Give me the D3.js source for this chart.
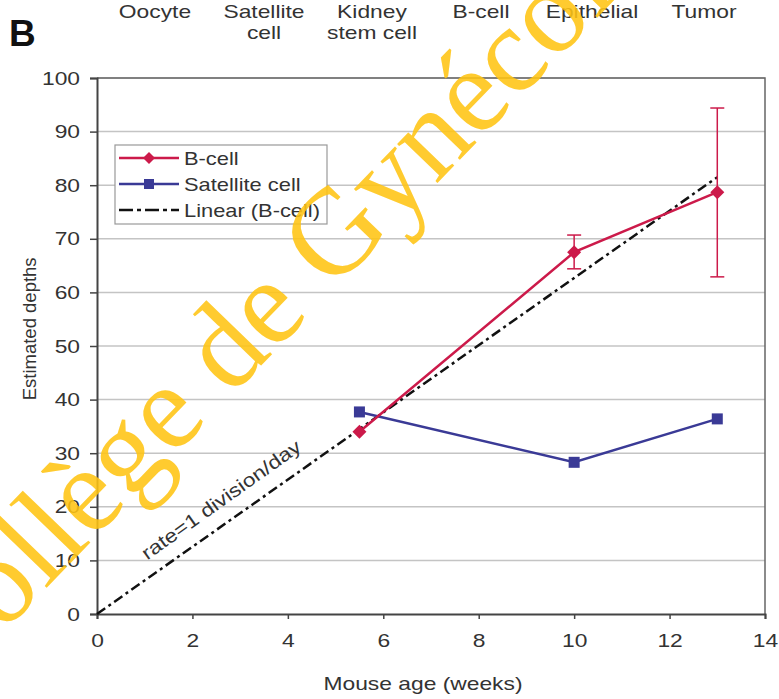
<!DOCTYPE html>
<html>
<head>
<meta charset="utf-8">
<script src="https://cdn.jsdelivr.net/npm/d3@7"></script>
<style>
  body { margin: 0; background: #fff; }
  svg { display: block; font-family: "Liberation Sans", Arial, sans-serif; }
</style>
</head>
<body>
<div id="chart"></div>
<script>
// B-cell depths with error bars, satellite cell depths, linear fit
const weeks = [5.5, 10, 13];
const bcell = [34, 67.5, 78.7];
const bcellLo = [34, 64.4, 62.9];
const bcellHi = [34, 70.7, 94.4];
const satellite = [37.7, 28.3, 36.4];
const linearWeeks = [0, 13];
const linearDepth = [0, 81.5];
const xTicks = [0, 2, 4, 6, 8, 10, 12, 14];
const yTicks = [0, 10, 20, 30, 40, 50, 60, 70, 80, 90, 100];
const headers = [["Oocyte"], ["Satellite", "cell"], ["Kidney", "stem cell"], ["B-cell"], ["Epithelial"], ["Tumor"]];
const headerX = [155, 264, 372, 481, 592, 704];
const legendLabels = ["B-cell", "Satellite cell", "Linear (B-cell)"];

const W = 779, H = 699;
const m = {top: 78, right: 14, bottom: 85, left: 97};
const red = "#cc1a4a", blue = "#3a3a96";
const stretch = 1.2; // the original text is drawn wide

const svg = d3.select("#chart").append("svg")
  .attr("width", W).attr("height", H);

function widen(sel, k) {
  sel.each(function () {
    const len = this.getComputedTextLength();
    d3.select(this).attr("textLength", len * k).attr("lengthAdjust", "spacingAndGlyphs");
  });
}

const x = d3.scaleLinear().domain([0, 14]).range([m.left, W - m.right]);
const y = d3.scaleLinear().domain([0, 100]).range([H - m.bottom, m.top]);

// gridlines
svg.append("g")
  .selectAll("line")
  .data(yTicks.slice(1))
  .join("line")
  .attr("x1", x(0)).attr("x2", x(14))
  .attr("y1", d => y(d)).attr("y2", d => y(d))
  .attr("stroke", "#c4c4c4").attr("stroke-width", 1.5);

// plot border top/right
svg.append("path")
  .attr("d", `M${x(0)},${y(100)}H${x(14)}V${y(0)}`)
  .attr("fill", "none").attr("stroke", "#666").attr("stroke-width", 1.5);

// axes
const xAxis = svg.append("g")
  .attr("transform", `translate(0,${y(0)})`)
  .call(d3.axisBottom(x).tickValues(xTicks).tickSize(5).tickPadding(15));
const yAxis = svg.append("g")
  .attr("transform", `translate(${x(0)},0)`)
  .call(d3.axisLeft(y).tickValues(yTicks).tickSize(7).tickPadding(10));
[xAxis, yAxis].forEach(g => {
  g.select(".domain").attr("stroke", "#444").attr("stroke-width", 2);
  g.selectAll(".tick line").attr("stroke", "#444").attr("stroke-width", 1.5);
  g.selectAll(".tick text").attr("fill", "#333").style("font-size", "19px");
  widen(g.selectAll(".tick text"), stretch);
});

// linear fit
const lin = linearWeeks.map((w, i) => [w, linearDepth[i]]);
svg.append("path")
  .attr("d", d3.line().x(d => x(d[0])).y(d => y(d[1]))(lin))
  .attr("fill", "none").attr("stroke", "#111").attr("stroke-width", 2.5)
  .attr("stroke-dasharray", "10,4,3,4");

const rate = svg.append("text")
  .attr("transform", "translate(225,505) rotate(-35.5)")
  .attr("text-anchor", "middle")
  .attr("fill", "#333").style("font-size", "19px")
  .text("rate=1 division/day");
widen(rate, stretch);

// satellite cell
const sat = weeks.map((w, i) => [w, satellite[i]]);
svg.append("path")
  .attr("d", d3.line().x(d => x(d[0])).y(d => y(d[1]))(sat))
  .attr("fill", "none").attr("stroke", blue).attr("stroke-width", 2.5);
svg.append("g").selectAll("rect").data(sat).join("rect")
  .attr("x", d => x(d[0]) - 5.5).attr("y", d => y(d[1]) - 5.5)
  .attr("width", 11).attr("height", 11).attr("fill", blue);

// B-cell
const bc = weeks.map((w, i) => [w, bcell[i], bcellLo[i], bcellHi[i]]);
svg.append("path")
  .attr("d", d3.line().x(d => x(d[0])).y(d => y(d[1]))(bc))
  .attr("fill", "none").attr("stroke", red).attr("stroke-width", 2.5);
const eb = svg.append("g").attr("stroke", red).attr("stroke-width", 1.5);
bc.filter(d => d[3] > d[2]).forEach(d => {
  eb.append("line").attr("x1", x(d[0])).attr("x2", x(d[0]))
    .attr("y1", y(d[2])).attr("y2", y(d[3]));
  [d[2], d[3]].forEach(v => eb.append("line")
    .attr("x1", x(d[0]) - 7).attr("x2", x(d[0]) + 7)
    .attr("y1", y(v)).attr("y2", y(v)));
});
svg.append("g").selectAll("path").data(bc).join("path")
  .attr("transform", d => `translate(${x(d[0])},${y(d[1])})`)
  .attr("d", "M0,-7L7,0L0,7L-7,0Z").attr("fill", red);

// legend
const lg = svg.append("g").attr("transform", "translate(115,145)");
lg.append("rect").attr("width", 212).attr("height", 79)
  .attr("fill", "#fff").attr("stroke", "#999").attr("stroke-width", 1.2);
const rows = lg.selectAll("g").data(legendLabels).join("g")
  .attr("transform", (d, i) => `translate(0,${13 + i * 26})`);
rows.append("line").attr("x1", 4).attr("x2", 64)
  .attr("stroke", (d, i) => [red, blue, "#111"][i])
  .attr("stroke-width", 2.5)
  .attr("stroke-dasharray", (d, i) => i === 2 ? "14,4,4,4" : null);
rows.filter((d, i) => i === 0).append("path")
  .attr("transform", "translate(34,0)").attr("d", "M0,-6L6,0L0,6L-6,0Z").attr("fill", red);
rows.filter((d, i) => i === 1).append("rect")
  .attr("x", 29).attr("y", -5).attr("width", 10).attr("height", 10).attr("fill", blue);
const lt = rows.append("text").attr("x", 69).attr("y", 7)
  .attr("fill", "#333").style("font-size", "19px").text(d => d);
widen(lt, 1.15);

// axis titles
const xt = svg.append("text")
  .attr("x", x(7) - 8).attr("y", 690).attr("text-anchor", "middle")
  .attr("fill", "#333").style("font-size", "19px").text("Mouse age (weeks)");
widen(xt, stretch);
svg.append("text")
  .attr("transform", `translate(36,${y(53.2)}) rotate(-90)`).attr("text-anchor", "middle")
  .attr("fill", "#333").style("font-size", "18.5px").text("Estimated depths");

// header row
const hd = svg.append("g").selectAll("text").data(headers).join("text")
  .attr("text-anchor", "middle").attr("fill", "#333").style("font-size", "19px");
const hs = hd.selectAll("tspan").data((d, i) => d.map(s => [s, headerX[i]])).join("tspan")
  .attr("x", d => d[1]).attr("y", (d, j) => 18 + j * 21).text(d => d[0]);
widen(hs, stretch);

svg.append("text").attr("x", 9).attr("y", 46)
  .style("font-size", "37px").style("font-weight", "bold").attr("fill", "#111").text("B");

// watermark on top, as in the original
svg.append("text")
  .attr("transform", "translate(-54,692) rotate(-46)")
  .attr("fill", "#ffc412").attr("fill-opacity", 0.88)
  .style("font-family", "'Liberation Serif', 'DejaVu Serif', serif")
  .style("font-size", "122px")
  .text("Collège de Gynécologie");
</script>
</body>
</html>
